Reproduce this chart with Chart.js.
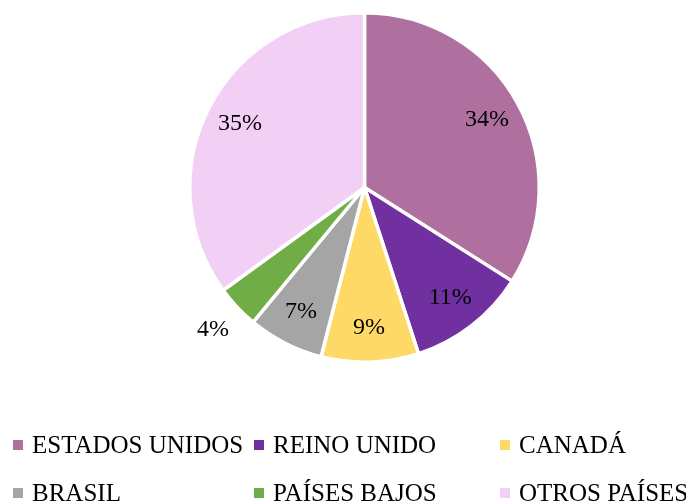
<!DOCTYPE html>
<html>
<head>
<meta charset="utf-8">
<script src="https://cdn.jsdelivr.net/npm/chart.js@4.4.1/dist/chart.umd.min.js"></script>
<style>
  html, body { margin: 0; padding: 0; background: #fff; }
  #wrap { width: 686px; height: 503px; }
</style>
</head>
<body>
<div id="wrap"><canvas id="pieChart" width="686" height="503"></canvas></div>
<script>
const countries = ['ESTADOS UNIDOS', 'REINO UNIDO', 'CANADÁ', 'BRASIL', 'PAÍSES BAJOS', 'OTROS PAÍSES'];
const shares = [34, 11, 9, 7, 4, 35];
const sliceColors = ['#B0709F', '#7030A0', '#FFD966', '#A5A5A5', '#70AD47', '#F2CFF5'];

const FONT = '"Liberation Serif", "DejaVu Serif", serif';

// percent labels, the tiny slice gets pushed outside
const pctLabels = {
  id: 'pctLabels',
  afterDatasetsDraw(chart) {
    const ctx = chart.ctx;
    const meta = chart.getDatasetMeta(0);
    ctx.save();
    ctx.font = '24px ' + FONT;
    ctx.fillStyle = '#000';
    ctx.textAlign = 'center';
    ctx.textBaseline = 'middle';
    meta.data.forEach((arc, i) => {
      const mid = (arc.startAngle + arc.endAngle) / 2;
      const k = shares[i] < 5 ? 1.19 : 0.8;
      const r = arc.outerRadius * k;
      const x = arc.x + Math.cos(mid) * r;
      const y = arc.y + Math.sin(mid) * r;
      ctx.fillText(shares[i] + '%', x, y);
    });
    ctx.restore();
  }
};

// legend in a 3-column grid below the pie
const gridLegend = {
  id: 'gridLegend',
  afterDraw(chart) {
    const ctx = chart.ctx;
    const colX = [13, 254, 500];
    const rowY = [445, 493];
    ctx.save();
    ctx.font = '25px ' + FONT;
    ctx.textBaseline = 'middle';
    countries.forEach((name, i) => {
      const x = colX[i % 3];
      const y = rowY[Math.floor(i / 3)];
      ctx.fillStyle = sliceColors[i];
      ctx.fillRect(x, y - 5, 10, 10);
      ctx.fillStyle = '#000';
      ctx.fillText(name, x + 19, y + 1);
    });
    ctx.restore();
  }
};

const pieCtx = document.getElementById('pieChart').getContext('2d');
const pieChart = new Chart(pieCtx, {
  type: 'pie',
  data: {
    labels: countries,
    datasets: [{
      data: shares,
      backgroundColor: sliceColors,
      borderColor: '#fff',
      borderWidth: 3.5
    }]
  },
  options: {
    responsive: false,
    animation: false,
    layout: { padding: { left: 188, right: 145, top: 11, bottom: 139 } },
    plugins: {
      legend: { display: false },
      tooltip: { enabled: false }
    }
  },
  plugins: [pctLabels, gridLegend]
});
</script>
</body>
</html>
